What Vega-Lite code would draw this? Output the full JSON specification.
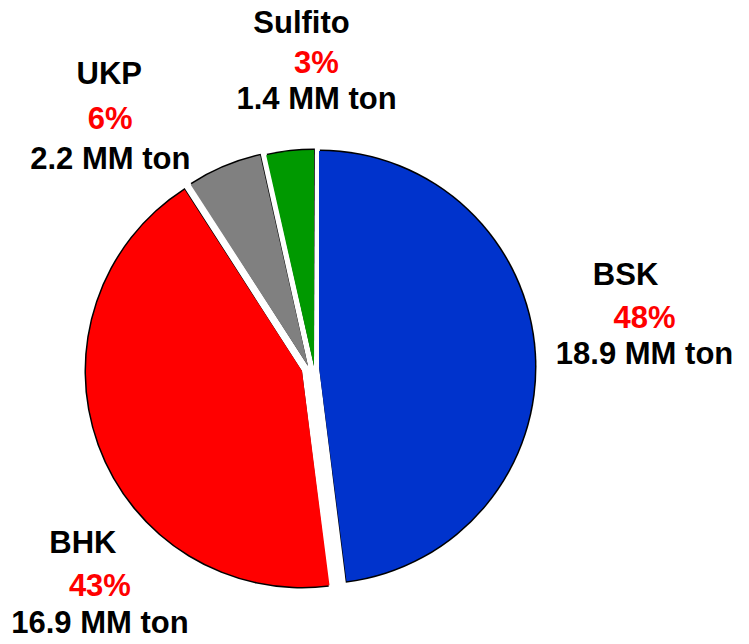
{
  "$schema": "https://vega.github.io/schema/vega-lite/v6.json",
  "width": 622,
  "height": 554,
  "autosize": {"type": "none"},
  "padding": {"left": 0, "top": 90, "right": 127, "bottom": 0},
  "background": "white",
  "config": {
    "view": {"stroke": null},
    "text": {"font": "Liberation Sans", "fontWeight": 700, "fontSize": 31, "align": "center", "baseline": "middle"}
  },
  "data": {
    "values": [
      {"tipo": "BSK", "valor": 18.9, "pct": "48%", "ton": "18.9 MM ton", "orden": 1},
      {"tipo": "BHK", "valor": 16.9, "pct": "43%", "ton": "16.9 MM ton", "orden": 2},
      {"tipo": "UKP", "valor": 2.2, "pct": "6%", "ton": "2.2 MM ton", "orden": 3},
      {"tipo": "Sulfito", "valor": 1.4, "pct": "3%", "ton": "1.4 MM ton", "orden": 4}
    ]
  },
  "encoding": {
    "theta": {"field": "valor", "type": "quantitative", "stack": true},
    "order": {"field": "orden", "type": "quantitative"}
  },
  "layer": [
    {
      "encoding": {"opacity": {"condition": {"test": "datum.tipo === 'BSK'", "value": 1}, "value": 0}},
      "layer": [
        {"mark": {"type": "arc", "radius": 217.5, "fill": "#000000", "xOffset": 8, "yOffset": 0, "thetaOffset": 0.004, "theta2Offset": -0.004}},
        {"mark": {"type": "arc", "radius": 216, "fill": "#0033CC", "xOffset": 8, "yOffset": 0}},
        {"mark": {"type": "text", "font": "Liberation Sans", "fontWeight": "bold", "fontSize": 31, "radius": 337, "thetaOffset": -0.0794, "dy": -43, "dx": -19, "color": "#000000"}, "encoding": {"text": {"field": "tipo"}}},
        {"mark": {"type": "text", "font": "Liberation Sans", "fontWeight": "bold", "fontSize": 31, "radius": 337, "thetaOffset": -0.0794, "color": "#FF0000"}, "encoding": {"text": {"field": "pct"}}},
        {"mark": {"type": "text", "font": "Liberation Sans", "fontWeight": "bold", "fontSize": 31, "radius": 337, "thetaOffset": -0.0794, "dy": 36, "color": "#000000"}, "encoding": {"text": {"field": "ton"}}}
      ]
    },
    {
      "encoding": {"opacity": {"condition": {"test": "datum.tipo === 'BHK'", "value": 1}, "value": 0}},
      "layer": [
        {"mark": {"type": "arc", "radius": 217.5, "fill": "#000000", "xOffset": -9, "yOffset": 4, "thetaOffset": 0.004, "theta2Offset": -0.004}},
        {"mark": {"type": "arc", "radius": 216, "fill": "#FF0000", "xOffset": -9, "yOffset": 4}},
        {"mark": {"type": "text", "font": "Liberation Sans", "fontWeight": "bold", "fontSize": 31, "radius": 305, "thetaOffset": -0.4555, "dy": -43, "dx": -17, "color": "#000000"}, "encoding": {"text": {"field": "tipo"}}},
        {"mark": {"type": "text", "font": "Liberation Sans", "fontWeight": "bold", "fontSize": 31, "radius": 305, "thetaOffset": -0.4555, "color": "#FF0000"}, "encoding": {"text": {"field": "pct"}}},
        {"mark": {"type": "text", "font": "Liberation Sans", "fontWeight": "bold", "fontSize": 31, "radius": 305, "thetaOffset": -0.4555, "dy": 37, "color": "#000000"}, "encoding": {"text": {"field": "ton"}}}
      ]
    },
    {
      "encoding": {"opacity": {"condition": {"test": "datum.tipo === 'UKP'", "value": 1}, "value": 0}},
      "layer": [
        {"mark": {"type": "arc", "radius": 217.5, "fill": "#000000", "xOffset": -3, "yOffset": -1, "thetaOffset": 0.004, "theta2Offset": -0.004}},
        {"mark": {"type": "arc", "radius": 216, "fill": "#808080", "xOffset": -3, "yOffset": -1}},
        {"mark": {"type": "text", "font": "Liberation Sans", "fontWeight": "bold", "fontSize": 31, "radius": 318, "thetaOffset": -0.2845, "dy": -45, "dx": -1, "color": "#000000"}, "encoding": {"text": {"field": "tipo"}}},
        {"mark": {"type": "text", "font": "Liberation Sans", "fontWeight": "bold", "fontSize": 31, "radius": 318, "thetaOffset": -0.2845, "color": "#FF0000"}, "encoding": {"text": {"field": "pct"}}},
        {"mark": {"type": "text", "font": "Liberation Sans", "fontWeight": "bold", "fontSize": 31, "radius": 318, "thetaOffset": -0.2845, "dy": 40, "color": "#000000"}, "encoding": {"text": {"field": "ton"}}}
      ]
    },
    {
      "encoding": {"opacity": {"condition": {"test": "datum.tipo === 'Sulfito'", "value": 1}, "value": 0}},
      "layer": [
        {"mark": {"type": "arc", "radius": 217.5, "fill": "#000000", "xOffset": 3, "yOffset": -1, "thetaOffset": 0.004, "theta2Offset": -0.004}},
        {"mark": {"type": "arc", "radius": 216, "fill": "#009900", "xOffset": 3, "yOffset": -1}},
        {"mark": {"type": "text", "font": "Liberation Sans", "fontWeight": "bold", "fontSize": 31, "radius": 303, "thetaOffset": 0.1298, "dy": -40, "dx": -15, "color": "#000000"}, "encoding": {"text": {"field": "tipo"}}},
        {"mark": {"type": "text", "font": "Liberation Sans", "fontWeight": "bold", "fontSize": 31, "radius": 303, "thetaOffset": 0.1298, "color": "#FF0000"}, "encoding": {"text": {"field": "pct"}}},
        {"mark": {"type": "text", "font": "Liberation Sans", "fontWeight": "bold", "fontSize": 31, "radius": 303, "thetaOffset": 0.1298, "dy": 36, "color": "#000000"}, "encoding": {"text": {"field": "ton"}}}
      ]
    }
  ]
}
